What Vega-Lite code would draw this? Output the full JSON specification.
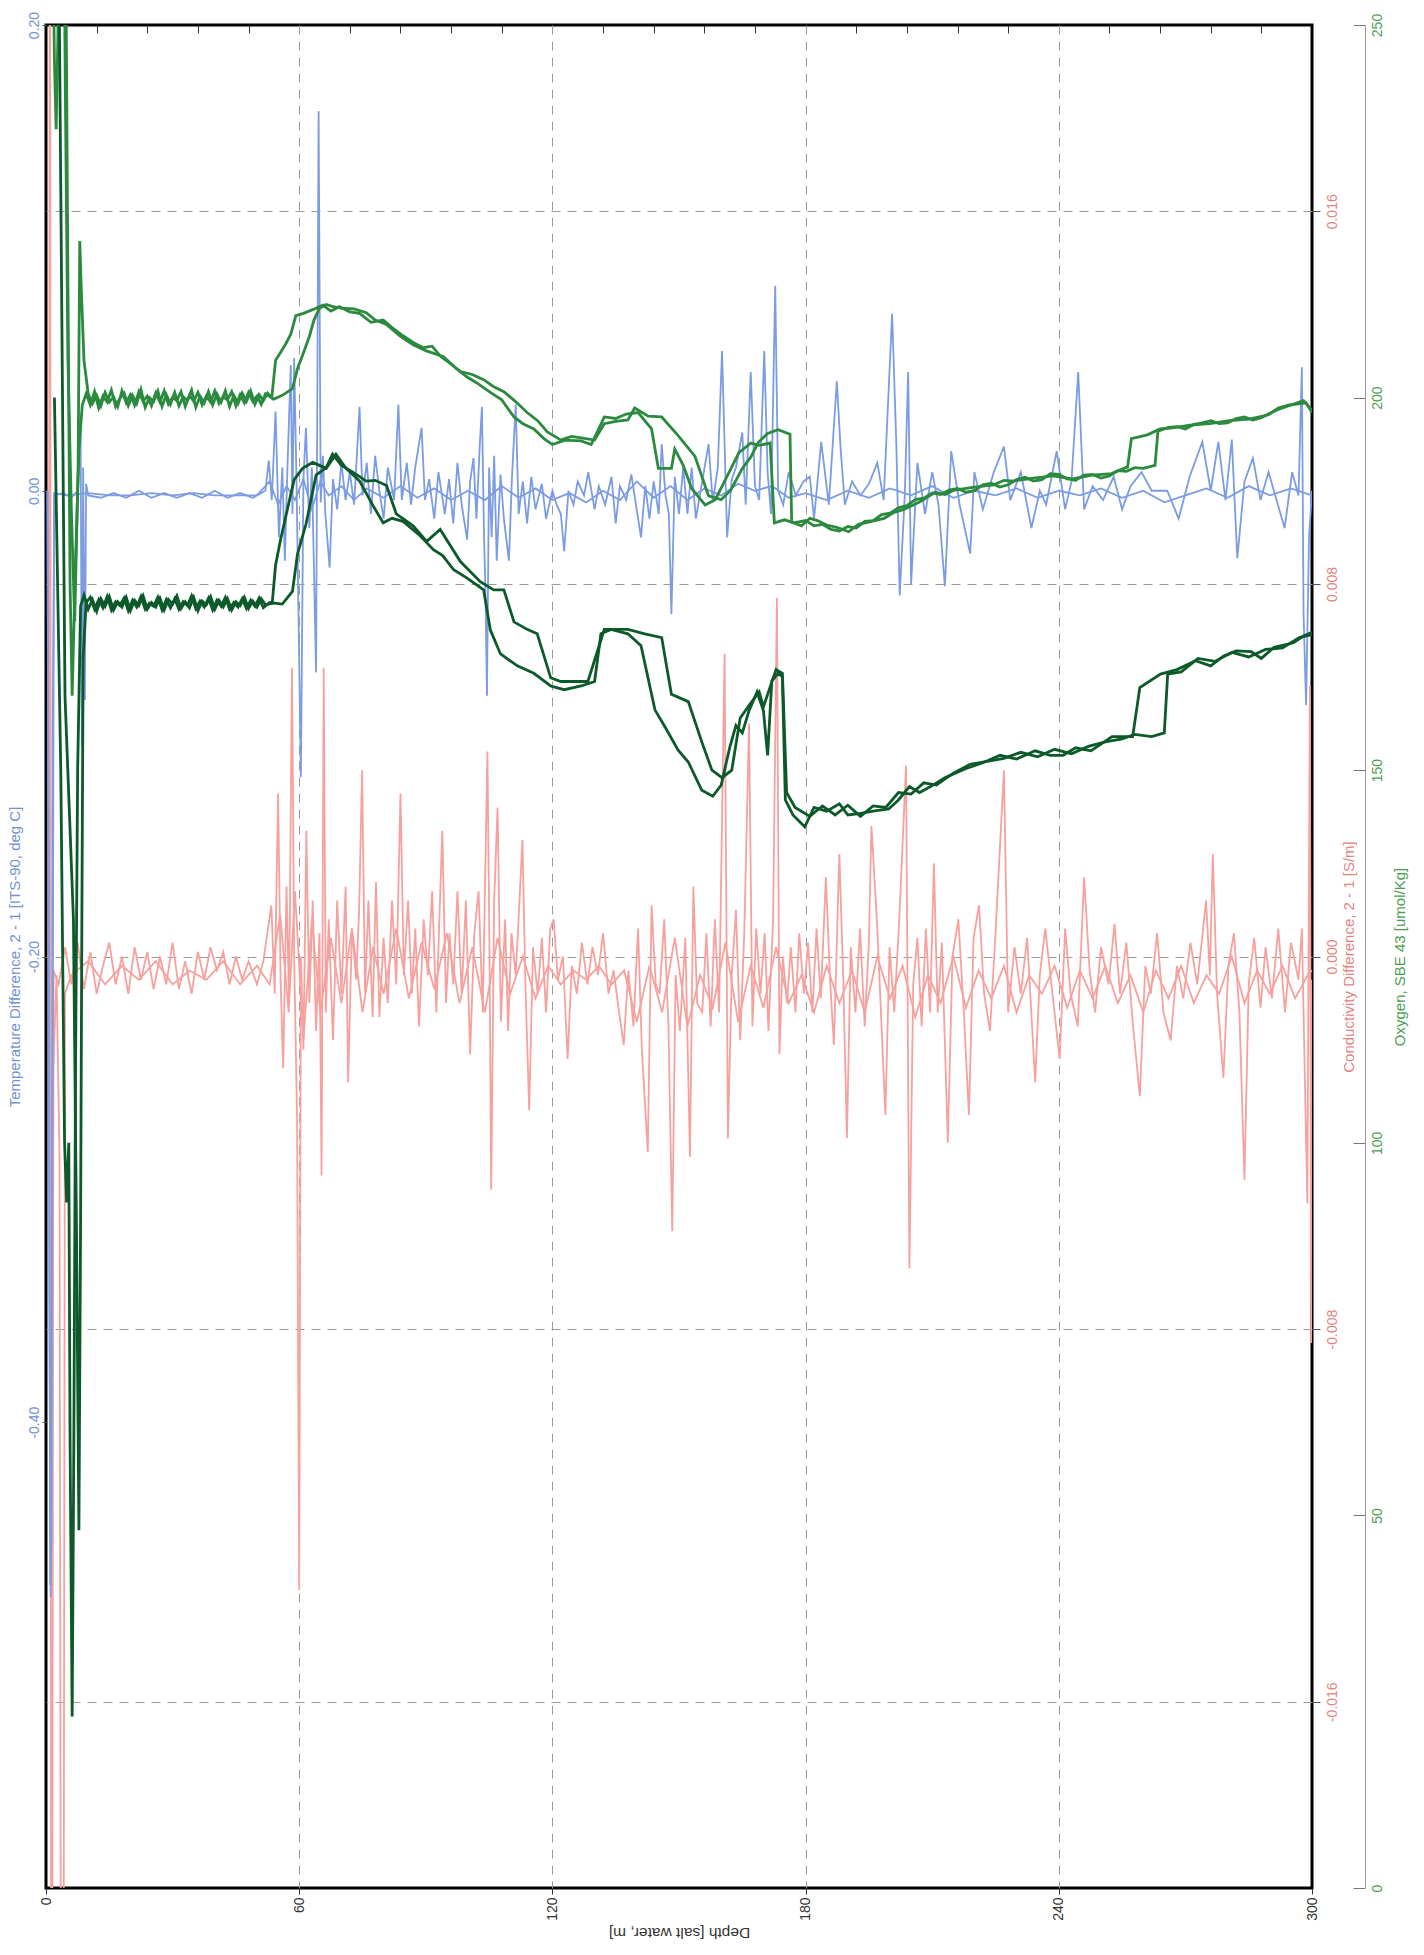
{
"$schema":"https://vega.github.io/schema/vega-lite/v6.json",
"width":1266,"height":1863,
"autosize":{"type":"none"},
"padding":{"left":46,"top":25,"right":112,"bottom":67},
"background":"white",
"config":{"view":{"stroke":"#000","strokeWidth":3},"font":"Liberation Sans","axis":{"titleFontWeight":"normal","labelFlush":false,"labelOverlap":false,"labelBound":false}},
"data":{"values":[
{"s":"C","c":"a","d":0.6,"v":0.0},{"s":"C","c":"a","d":0.9,"v":0.021},{"s":"C","c":"a","d":1.1,"v":-0.004},{"s":"C","c":"a","d":2.5,"v":-0.0004},{"s":"C","c":"a","d":3.2,"v":-0.0043},{"s":"C","c":"a","d":3.5,"v":-0.021},{"s":"C","c":"a","d":4.2,"v":-0.021},{"s":"C","c":"a","d":4.5,"v":-0.0008},{"s":"C","c":"a","d":6,"v":-0.0004},{"s":"C","c":"a","d":10,"v":-0.0001},{"s":"C","c":"a","d":14,"v":-0.0006},{"s":"C","c":"a","d":18,"v":-0.0002},{"s":"C","c":"a","d":22,"v":-0.0005},{"s":"C","c":"a","d":26,"v":-0.0001},{"s":"C","c":"a","d":30,"v":-0.0006},{"s":"C","c":"a","d":34,"v":-0.0003},{"s":"C","c":"a","d":38,"v":-0.0005},{"s":"C","c":"a","d":42,"v":-0.0001},{"s":"C","c":"a","d":46,"v":-0.0006},{"s":"C","c":"a","d":50,"v":-0.0002},{"s":"C","c":"a","d":53,"v":-0.0006},{"s":"C","c":"a","d":55.5,"v":0.0009},{"s":"C","c":"a","d":57.5,"v":-0.0012},{"s":"C","c":"a","d":59,"v":0.0014},{"s":"C","c":"a","d":61,"v":-0.0018},{"s":"C","c":"a","d":63,"v":0.0008},{"s":"C","c":"a","d":65,"v":-0.0012},{"s":"C","c":"a","d":67.5,"v":0.0004},{"s":"C","c":"a","d":70,"v":-0.001},{"s":"C","c":"a","d":72.5,"v":0.0006},{"s":"C","c":"a","d":75,"v":-0.0012},{"s":"C","c":"a","d":77.5,"v":0.0002},{"s":"C","c":"a","d":80,"v":-0.0008},{"s":"C","c":"a","d":83,"v":0.0006},{"s":"C","c":"a","d":86,"v":-0.0009},{"s":"C","c":"a","d":89,"v":0.0003},{"s":"C","c":"a","d":92,"v":-0.0007},{"s":"C","c":"a","d":95,"v":0.0005},{"s":"C","c":"a","d":98,"v":-0.001},{"s":"C","c":"a","d":101,"v":0.0002},{"s":"C","c":"a","d":104,"v":-0.0012},{"s":"C","c":"a","d":107,"v":0.0004},{"s":"C","c":"a","d":110,"v":-0.0008},{"s":"C","c":"a","d":113,"v":0.0},{"s":"C","c":"a","d":116,"v":-0.0009},{"s":"C","c":"a","d":119,"v":-0.0002},{"s":"C","c":"a","d":122,"v":-0.0006},{"s":"C","c":"a","d":125,"v":-0.0003},{"s":"C","c":"a","d":128,"v":-0.0005},{"s":"C","c":"a","d":131,"v":-0.0002},{"s":"C","c":"a","d":134,"v":-0.0006},{"s":"C","c":"a","d":137,"v":-0.0003},{"s":"C","c":"a","d":140,"v":-0.0014},{"s":"C","c":"a","d":143,"v":-0.0002},{"s":"C","c":"a","d":146,"v":-0.0012},{"s":"C","c":"a","d":149,"v":0.0004},{"s":"C","c":"a","d":152,"v":-0.0015},{"s":"C","c":"a","d":155,"v":-0.0004},{"s":"C","c":"a","d":158,"v":-0.0011},{"s":"C","c":"a","d":161,"v":0.0003},{"s":"C","c":"a","d":164,"v":-0.0014},{"s":"C","c":"a","d":167,"v":-0.0002},{"s":"C","c":"a","d":170,"v":-0.0011},{"s":"C","c":"a","d":173,"v":0.0002},{"s":"C","c":"a","d":176,"v":-0.001},{"s":"C","c":"a","d":179,"v":-0.0004},{"s":"C","c":"a","d":182,"v":-0.0012},{"s":"C","c":"a","d":185,"v":-0.0002},{"s":"C","c":"a","d":188,"v":-0.001},{"s":"C","c":"a","d":191,"v":-0.0003},{"s":"C","c":"a","d":194,"v":-0.0012},{"s":"C","c":"a","d":197,"v":0.0},{"s":"C","c":"a","d":200,"v":-0.0009},{"s":"C","c":"a","d":203,"v":-0.0002},{"s":"C","c":"a","d":206,"v":-0.0013},{"s":"C","c":"a","d":209,"v":-0.0004},{"s":"C","c":"a","d":212,"v":-0.001},{"s":"C","c":"a","d":215,"v":0.0},{"s":"C","c":"a","d":218,"v":-0.0011},{"s":"C","c":"a","d":221,"v":-0.0003},{"s":"C","c":"a","d":224,"v":-0.0009},{"s":"C","c":"a","d":227,"v":-0.0002},{"s":"C","c":"a","d":230,"v":-0.0012},{"s":"C","c":"a","d":233,"v":-0.0004},{"s":"C","c":"a","d":236,"v":-0.0008},{"s":"C","c":"a","d":239,"v":-0.0002},{"s":"C","c":"a","d":242,"v":-0.0011},{"s":"C","c":"a","d":245,"v":-0.0003},{"s":"C","c":"a","d":248,"v":-0.0009},{"s":"C","c":"a","d":251,"v":-0.0002},{"s":"C","c":"a","d":254,"v":-0.001},{"s":"C","c":"a","d":257,"v":-0.0004},{"s":"C","c":"a","d":260,"v":-0.0012},{"s":"C","c":"a","d":263,"v":-0.0003},{"s":"C","c":"a","d":266,"v":-0.0009},{"s":"C","c":"a","d":269,"v":-0.0002},{"s":"C","c":"a","d":272,"v":-0.001},{"s":"C","c":"a","d":275,"v":-0.0004},{"s":"C","c":"a","d":278,"v":-0.0008},{"s":"C","c":"a","d":281,"v":0.0},{"s":"C","c":"a","d":284,"v":-0.001},{"s":"C","c":"a","d":287,"v":-0.0003},{"s":"C","c":"a","d":290,"v":-0.0008},{"s":"C","c":"a","d":293,"v":-0.0002},{"s":"C","c":"a","d":296,"v":-0.0009},{"s":"C","c":"a","d":299,"v":-0.0004},{"s":"C","c":"a","d":300,"v":-0.0003},
{"s":"C","c":"b","d":0.8,"v":0.0},{"s":"C","c":"b","d":1.0,"v":0.021},{"s":"C","c":"b","d":1.2,"v":-0.021},{"s":"C","c":"b","d":1.5,"v":-0.021},{"s":"C","c":"b","d":1.8,"v":-0.0003},{"s":"C","c":"b","d":3,"v":-0.0006},{"s":"C","c":"b","d":4.5,"v":0.0002},{"s":"C","c":"b","d":6,"v":-0.0006},{"s":"C","c":"b","d":7.5,"v":0.0003},{"s":"C","c":"b","d":9,"v":-0.0007},{"s":"C","c":"b","d":10.5,"v":0.0001},{"s":"C","c":"b","d":12,"v":-0.0008},{"s":"C","c":"b","d":13.5,"v":-0.0002},{"s":"C","c":"b","d":15,"v":0.0003},{"s":"C","c":"b","d":16.5,"v":-0.0006},{"s":"C","c":"b","d":18,"v":0.0},{"s":"C","c":"b","d":19.5,"v":-0.0008},{"s":"C","c":"b","d":21,"v":0.0002},{"s":"C","c":"b","d":22.5,"v":-0.0005},{"s":"C","c":"b","d":24,"v":0.0001},{"s":"C","c":"b","d":25.5,"v":-0.0007},{"s":"C","c":"b","d":27,"v":0.0},{"s":"C","c":"b","d":28.5,"v":-0.0006},{"s":"C","c":"b","d":30,"v":0.0003},{"s":"C","c":"b","d":31.5,"v":-0.0007},{"s":"C","c":"b","d":33,"v":-0.0001},{"s":"C","c":"b","d":34.5,"v":-0.0008},{"s":"C","c":"b","d":36,"v":0.0001},{"s":"C","c":"b","d":37.5,"v":-0.0005},{"s":"C","c":"b","d":39,"v":0.0002},{"s":"C","c":"b","d":40.5,"v":-0.0003},{"s":"C","c":"b","d":42,"v":0.0001},{"s":"C","c":"b","d":43.5,"v":-0.0006},{"s":"C","c":"b","d":45,"v":0.0},{"s":"C","c":"b","d":46.5,"v":-0.0005},{"s":"C","c":"b","d":48,"v":-0.0001},{"s":"C","c":"b","d":50,"v":-0.0006},{"s":"C","c":"b","d":51.5,"v":-0.0001},
{"s":"C","c":"b","d":53.4,"v":0.0011},{"s":"C","c":"b","d":54.2,"v":-0.0008},{"s":"C","c":"b","d":55,"v":0.0035},{"s":"C","c":"b","d":55.6,"v":-0.0005},{"s":"C","c":"b","d":56.2,"v":-0.0024},{"s":"C","c":"b","d":57,"v":0.0015},{"s":"C","c":"b","d":57.6,"v":-0.001},{"s":"C","c":"b","d":58.3,"v":0.0062},{"s":"C","c":"b","d":58.8,"v":0.0},{"s":"C","c":"b","d":59.5,"v":-0.0035},{"s":"C","c":"b","d":60,"v":-0.0136},{"s":"C","c":"b","d":60.4,"v":0.0},{"s":"C","c":"b","d":61,"v":-0.002},{"s":"C","c":"b","d":61.7,"v":0.0027},{"s":"C","c":"b","d":62.4,"v":-0.001},{"s":"C","c":"b","d":63.2,"v":0.0012},{"s":"C","c":"b","d":64,"v":-0.0016},{"s":"C","c":"b","d":64.8,"v":0.0005},{"s":"C","c":"b","d":65.3,"v":-0.0047},{"s":"C","c":"b","d":65.8,"v":0.0062},{"s":"C","c":"b","d":66.3,"v":-0.0012},{"s":"C","c":"b","d":67,"v":0.0008},{"s":"C","c":"b","d":68,"v":-0.0018},{"s":"C","c":"b","d":69,"v":0.0012},{"s":"C","c":"b","d":70,"v":-0.0008},{"s":"C","c":"b","d":71,"v":0.0015},{"s":"C","c":"b","d":71.6,"v":-0.0027},{"s":"C","c":"b","d":72.5,"v":0.0006},{"s":"C","c":"b","d":73.5,"v":-0.0005},{"s":"C","c":"b","d":74.2,"v":0.001},{"s":"C","c":"b","d":74.9,"v":0.004},{"s":"C","c":"b","d":75.6,"v":-0.0008},{"s":"C","c":"b","d":76.4,"v":0.0012},{"s":"C","c":"b","d":77.4,"v":-0.0013},{"s":"C","c":"b","d":78.2,"v":0.0016},{"s":"C","c":"b","d":79,"v":-0.0013},{"s":"C","c":"b","d":80,"v":0.0004},{"s":"C","c":"b","d":81,"v":-0.001},{"s":"C","c":"b","d":82,"v":0.0012},{"s":"C","c":"b","d":83,"v":-0.0006},{"s":"C","c":"b","d":84,"v":0.0035},{"s":"C","c":"b","d":84.8,"v":-0.0004},{"s":"C","c":"b","d":85.8,"v":0.0012},{"s":"C","c":"b","d":86.7,"v":-0.0008},{"s":"C","c":"b","d":87.5,"v":0.0006},{"s":"C","c":"b","d":88.4,"v":-0.0015},{"s":"C","c":"b","d":89.5,"v":0.0008},{"s":"C","c":"b","d":90.5,"v":-0.0004},{"s":"C","c":"b","d":91.5,"v":0.0014},{"s":"C","c":"b","d":92.5,"v":-0.0012},{"s":"C","c":"b","d":93.9,"v":0.0027},{"s":"C","c":"b","d":94.8,"v":-0.001},{"s":"C","c":"b","d":95.6,"v":0.0005},{"s":"C","c":"b","d":96.5,"v":-0.0006},{"s":"C","c":"b","d":97.5,"v":0.0014},{"s":"C","c":"b","d":98.5,"v":-0.0008},{"s":"C","c":"b","d":99.5,"v":0.0012},{"s":"C","c":"b","d":100.5,"v":-0.0021},{"s":"C","c":"b","d":101.5,"v":0.0005},{"s":"C","c":"b","d":102.5,"v":0.0014},{"s":"C","c":"b","d":103.5,"v":-0.0012},{"s":"C","c":"b","d":104.6,"v":0.0044},{"s":"C","c":"b","d":105.1,"v":0.0},{"s":"C","c":"b","d":105.5,"v":-0.005},{"s":"C","c":"b","d":106.2,"v":0.0012},{"s":"C","c":"b","d":107,"v":0.0032},{"s":"C","c":"b","d":107.8,"v":-0.0014},{"s":"C","c":"b","d":108.8,"v":0.0008},{"s":"C","c":"b","d":109.5,"v":-0.0016},{"s":"C","c":"b","d":110.3,"v":0.0005},{"s":"C","c":"b","d":111.3,"v":-0.0004},{"s":"C","c":"b","d":112.2,"v":0.0012},{"s":"C","c":"b","d":112.9,"v":0.0025},{"s":"C","c":"b","d":113.6,"v":-0.0006},{"s":"C","c":"b","d":114.5,"v":-0.0033},{"s":"C","c":"b","d":115.4,"v":0.0002},{"s":"C","c":"b","d":116.5,"v":-0.0008},{"s":"C","c":"b","d":117.5,"v":0.0004},{"s":"C","c":"b","d":118.5,"v":-0.0012},{"s":"C","c":"b","d":119.5,"v":0.0006},{"s":"C","c":"b","d":120.3,"v":0.0008},{"s":"C","c":"b","d":121.3,"v":-0.0005},{"s":"C","c":"b","d":122.5,"v":0.0},{"s":"C","c":"b","d":123.6,"v":-0.0022},{"s":"C","c":"b","d":124.6,"v":-0.0002},{"s":"C","c":"b","d":125.8,"v":-0.0008},{"s":"C","c":"b","d":127,"v":0.0003},{"s":"C","c":"b","d":128.3,"v":-0.0006},{"s":"C","c":"b","d":129.5,"v":0.0002},{"s":"C","c":"b","d":130.8,"v":-0.0004},{"s":"C","c":"b","d":132,"v":0.0005},{"s":"C","c":"b","d":133.3,"v":-0.0008},{"s":"C","c":"b","d":134.5,"v":-0.0003},{"s":"C","c":"b","d":135.8,"v":-0.0012},{"s":"C","c":"b","d":136.9,"v":-0.0019},{"s":"C","c":"b","d":138,"v":-0.0003},{"s":"C","c":"b","d":139.2,"v":-0.0015},{"s":"C","c":"b","d":140.3,"v":0.0006},{"s":"C","c":"b","d":141.2,"v":-0.002},{"s":"C","c":"b","d":142.6,"v":-0.0042},{"s":"C","c":"b","d":143.5,"v":0.0011},{"s":"C","c":"b","d":144.5,"v":-0.0006},{"s":"C","c":"b","d":145.4,"v":-0.0008},{"s":"C","c":"b","d":146.5,"v":0.0008},{"s":"C","c":"b","d":147.5,"v":-0.0015},{"s":"C","c":"b","d":148.4,"v":-0.0059},{"s":"C","c":"b","d":149.2,"v":-0.0004},{"s":"C","c":"b","d":150.2,"v":-0.0016},{"s":"C","c":"b","d":151.5,"v":0.0004},{"s":"C","c":"b","d":152.6,"v":-0.0043},{"s":"C","c":"b","d":153.4,"v":0.0015},{"s":"C","c":"b","d":154.3,"v":-0.001},{"s":"C","c":"b","d":155.5,"v":-0.0012},{"s":"C","c":"b","d":156.5,"v":0.0005},{"s":"C","c":"b","d":157.5,"v":-0.0015},{"s":"C","c":"b","d":158.5,"v":0.0008},{"s":"C","c":"b","d":159.5,"v":-0.0012},{"s":"C","c":"b","d":160.8,"v":0.0065},{"s":"C","c":"b","d":161.6,"v":-0.0039},{"s":"C","c":"b","d":162.5,"v":-0.0004},{"s":"C","c":"b","d":163.5,"v":0.001},{"s":"C","c":"b","d":164.5,"v":-0.0018},{"s":"C","c":"b","d":165.5,"v":0.0006},{"s":"C","c":"b","d":166.6,"v":0.005},{"s":"C","c":"b","d":167.4,"v":-0.0015},{"s":"C","c":"b","d":168.3,"v":0.0006},{"s":"C","c":"b","d":169.3,"v":-0.0008},{"s":"C","c":"b","d":170.3,"v":0.0005},{"s":"C","c":"b","d":171.2,"v":-0.0016},{"s":"C","c":"b","d":172.3,"v":0.0008},{"s":"C","c":"b","d":173.2,"v":0.0077},{"s":"C","c":"b","d":173.8,"v":-0.0021},{"s":"C","c":"b","d":174.6,"v":0.0},{"s":"C","c":"b","d":175.6,"v":-0.001},{"s":"C","c":"b","d":176.5,"v":0.0002},{"s":"C","c":"b","d":177.6,"v":-0.0012},{"s":"C","c":"b","d":178.5,"v":0.0005},{"s":"C","c":"b","d":179.6,"v":-0.0008},{"s":"C","c":"b","d":180.6,"v":0.0003},{"s":"C","c":"b","d":181.6,"v":-0.0012},{"s":"C","c":"b","d":182.6,"v":0.0006},{"s":"C","c":"b","d":183.6,"v":-0.0009},{"s":"C","c":"b","d":184.8,"v":0.0017},{"s":"C","c":"b","d":185.8,"v":-0.0005},{"s":"C","c":"b","d":186.7,"v":-0.0019},{"s":"C","c":"b","d":188,"v":0.0022},{"s":"C","c":"b","d":188.9,"v":-0.0004},{"s":"C","c":"b","d":189.8,"v":-0.0039},{"s":"C","c":"b","d":190.7,"v":0.0002},{"s":"C","c":"b","d":191.8,"v":-0.0012},{"s":"C","c":"b","d":192.9,"v":0.0006},{"s":"C","c":"b","d":194,"v":-0.0015},{"s":"C","c":"b","d":195,"v":0.0003},{"s":"C","c":"b","d":195.6,"v":0.0028},{"s":"C","c":"b","d":197,"v":0.0006},{"s":"C","c":"b","d":198.9,"v":-0.0034},{"s":"C","c":"b","d":199.9,"v":0.0002},{"s":"C","c":"b","d":201,"v":-0.0012},{"s":"C","c":"b","d":202.2,"v":0.0008},{"s":"C","c":"b","d":203.8,"v":0.0041},{"s":"C","c":"b","d":204.6,"v":-0.0067},{"s":"C","c":"b","d":205.5,"v":-0.0006},{"s":"C","c":"b","d":206.5,"v":0.0004},{"s":"C","c":"b","d":207.5,"v":-0.0015},{"s":"C","c":"b","d":208.5,"v":0.0006},{"s":"C","c":"b","d":209.5,"v":-0.0012},{"s":"C","c":"b","d":210.4,"v":0.002},{"s":"C","c":"b","d":211.3,"v":-0.0012},{"s":"C","c":"b","d":212.3,"v":0.0003},{"s":"C","c":"b","d":213.7,"v":-0.004},{"s":"C","c":"b","d":214.8,"v":0.0},{"s":"C","c":"b","d":216.2,"v":0.0008},{"s":"C","c":"b","d":217.5,"v":-0.0012},{"s":"C","c":"b","d":218.7,"v":-0.0034},{"s":"C","c":"b","d":219.8,"v":0.0004},{"s":"C","c":"b","d":221.1,"v":0.0011},{"s":"C","c":"b","d":222.3,"v":-0.0008},{"s":"C","c":"b","d":223.7,"v":-0.0016},{"s":"C","c":"b","d":225,"v":0.0005},{"s":"C","c":"b","d":227,"v":0.004},{"s":"C","c":"b","d":228,"v":-0.0012},{"s":"C","c":"b","d":229.5,"v":0.0002},{"s":"C","c":"b","d":231,"v":-0.0008},{"s":"C","c":"b","d":232.5,"v":0.0004},{"s":"C","c":"b","d":234.4,"v":-0.0027},{"s":"C","c":"b","d":235.5,"v":-0.0004},{"s":"C","c":"b","d":236.8,"v":0.0006},{"s":"C","c":"b","d":238.5,"v":-0.0008},{"s":"C","c":"b","d":240.2,"v":-0.0022},{"s":"C","c":"b","d":241.5,"v":0.0006},{"s":"C","c":"b","d":242.8,"v":-0.0008},{"s":"C","c":"b","d":244.5,"v":-0.0015},{"s":"C","c":"b","d":246,"v":0.0017},{"s":"C","c":"b","d":247.3,"v":-0.0003},{"s":"C","c":"b","d":248.6,"v":-0.0012},{"s":"C","c":"b","d":250,"v":0.0002},{"s":"C","c":"b","d":251.8,"v":-0.0006},{"s":"C","c":"b","d":253.2,"v":0.0007},{"s":"C","c":"b","d":254.5,"v":-0.0008},{"s":"C","c":"b","d":256,"v":0.0003},{"s":"C","c":"b","d":257.5,"v":-0.0014},{"s":"C","c":"b","d":259.2,"v":-0.003},{"s":"C","c":"b","d":260.5,"v":-0.0002},{"s":"C","c":"b","d":261.8,"v":-0.0008},{"s":"C","c":"b","d":263.3,"v":0.0005},{"s":"C","c":"b","d":264.8,"v":-0.0012},{"s":"C","c":"b","d":266.5,"v":-0.0018},{"s":"C","c":"b","d":268,"v":-0.0002},{"s":"C","c":"b","d":269.5,"v":-0.0009},{"s":"C","c":"b","d":271.2,"v":0.0003},{"s":"C","c":"b","d":272.8,"v":-0.0006},{"s":"C","c":"b","d":274.9,"v":0.0012},{"s":"C","c":"b","d":275.8,"v":-0.0004},{"s":"C","c":"b","d":276.5,"v":0.0022},{"s":"C","c":"b","d":277.5,"v":-0.0008},{"s":"C","c":"b","d":279,"v":-0.0026},{"s":"C","c":"b","d":280.2,"v":-0.0002},{"s":"C","c":"b","d":281.5,"v":0.0005},{"s":"C","c":"b","d":282.8,"v":-0.0012},{"s":"C","c":"b","d":284,"v":-0.0048},{"s":"C","c":"b","d":285,"v":-0.0006},{"s":"C","c":"b","d":286.3,"v":0.0004},{"s":"C","c":"b","d":287.8,"v":-0.0011},{"s":"C","c":"b","d":289,"v":0.0002},{"s":"C","c":"b","d":290.5,"v":-0.0009},{"s":"C","c":"b","d":292,"v":0.0006},{"s":"C","c":"b","d":293.6,"v":-0.0012},{"s":"C","c":"b","d":295,"v":0.0003},{"s":"C","c":"b","d":296.8,"v":-0.0005},{"s":"C","c":"b","d":297.6,"v":0.0006},{"s":"C","c":"b","d":298.9,"v":-0.0053},{"s":"C","c":"b","d":299.5,"v":0.0058},{"s":"C","c":"b","d":299.8,"v":-0.0083},{"s":"C","c":"b","d":300,"v":-0.0005},
{"s":"T","c":"a","d":0.4,"v":0.0},{"s":"T","c":"a","d":0.8,"v":-0.35},{"s":"T","c":"a","d":1.1,"v":-0.475},{"s":"T","c":"a","d":1.5,"v":-0.3},{"s":"T","c":"a","d":1.9,"v":-0.001},{"s":"T","c":"a","d":5,"v":-0.002},{"s":"T","c":"a","d":10,"v":-0.001},{"s":"T","c":"a","d":15,"v":-0.002},{"s":"T","c":"a","d":20,"v":-0.002},{"s":"T","c":"a","d":25,"v":-0.001},{"s":"T","c":"a","d":30,"v":-0.002},{"s":"T","c":"a","d":35,"v":-0.001},{"s":"T","c":"a","d":40,"v":-0.002},{"s":"T","c":"a","d":45,"v":-0.002},{"s":"T","c":"a","d":50,"v":-0.002},{"s":"T","c":"a","d":53,"v":0.004},{"s":"T","c":"a","d":55,"v":-0.006},{"s":"T","c":"a","d":57,"v":0.002},{"s":"T","c":"a","d":59,"v":-0.004},{"s":"T","c":"a","d":61,"v":0.005},{"s":"T","c":"a","d":63,"v":-0.008},{"s":"T","c":"a","d":65,"v":0.004},{"s":"T","c":"a","d":67,"v":-0.002},{"s":"T","c":"a","d":70,"v":0.002},{"s":"T","c":"a","d":73,"v":-0.004},{"s":"T","c":"a","d":76,"v":0.001},{"s":"T","c":"a","d":80,"v":-0.003},{"s":"T","c":"a","d":84,"v":0.002},{"s":"T","c":"a","d":88,"v":-0.003},{"s":"T","c":"a","d":92,"v":0.001},{"s":"T","c":"a","d":96,"v":-0.004},{"s":"T","c":"a","d":100,"v":0.0},{"s":"T","c":"a","d":104,"v":-0.004},{"s":"T","c":"a","d":108,"v":0.002},{"s":"T","c":"a","d":112,"v":-0.003},{"s":"T","c":"a","d":116,"v":0.001},{"s":"T","c":"a","d":120,"v":-0.004},{"s":"T","c":"a","d":124,"v":-0.001},{"s":"T","c":"a","d":128,"v":-0.005},{"s":"T","c":"a","d":132,"v":0.0},{"s":"T","c":"a","d":136,"v":-0.004},{"s":"T","c":"a","d":140,"v":0.004},{"s":"T","c":"a","d":144,"v":-0.003},{"s":"T","c":"a","d":148,"v":0.002},{"s":"T","c":"a","d":152,"v":-0.004},{"s":"T","c":"a","d":156,"v":0.001},{"s":"T","c":"a","d":160,"v":-0.002},{"s":"T","c":"a","d":164,"v":0.003},{"s":"T","c":"a","d":168,"v":0.0},{"s":"T","c":"a","d":172,"v":0.002},{"s":"T","c":"a","d":176,"v":-0.003},{"s":"T","c":"a","d":180,"v":-0.001},{"s":"T","c":"a","d":185,"v":-0.004},{"s":"T","c":"a","d":190,"v":0.0},{"s":"T","c":"a","d":195,"v":-0.003},{"s":"T","c":"a","d":200,"v":0.001},{"s":"T","c":"a","d":205,"v":-0.002},{"s":"T","c":"a","d":210,"v":0.002},{"s":"T","c":"a","d":215,"v":-0.003},{"s":"T","c":"a","d":220,"v":0.0},{"s":"T","c":"a","d":225,"v":-0.002},{"s":"T","c":"a","d":230,"v":0.001},{"s":"T","c":"a","d":235,"v":-0.003},{"s":"T","c":"a","d":240,"v":0.0},{"s":"T","c":"a","d":245,"v":-0.002},{"s":"T","c":"a","d":250,"v":0.001},{"s":"T","c":"a","d":255,"v":-0.003},{"s":"T","c":"a","d":260,"v":0.0},{"s":"T","c":"a","d":265,"v":-0.005},{"s":"T","c":"a","d":270,"v":-0.002},{"s":"T","c":"a","d":275,"v":0.001},{"s":"T","c":"a","d":280,"v":-0.003},{"s":"T","c":"a","d":285,"v":0.002},{"s":"T","c":"a","d":290,"v":-0.002},{"s":"T","c":"a","d":295,"v":0.001},{"s":"T","c":"a","d":300,"v":-0.002},
{"s":"T","c":"b","d":0.3,"v":0.0},{"s":"T","c":"b","d":0.7,"v":-0.2},{"s":"T","c":"b","d":1.0,"v":-0.47},{"s":"T","c":"b","d":1.3,"v":-0.45},{"s":"T","c":"b","d":1.6,"v":-0.1},{"s":"T","c":"b","d":2.0,"v":-0.002},{"s":"T","c":"b","d":4,"v":-0.001},{"s":"T","c":"b","d":6,"v":-0.003},{"s":"T","c":"b","d":7.5,"v":0.0},{"s":"T","c":"b","d":8.2,"v":0.03},{"s":"T","c":"b","d":8.5,"v":-0.11},{"s":"T","c":"b","d":8.8,"v":0.01},{"s":"T","c":"b","d":9.2,"v":-0.09},{"s":"T","c":"b","d":9.5,"v":0.003},{"s":"T","c":"b","d":10,"v":-0.002},{"s":"T","c":"b","d":13,"v":-0.003},{"s":"T","c":"b","d":16,"v":-0.001},{"s":"T","c":"b","d":19,"v":-0.003},{"s":"T","c":"b","d":22,"v":0.0},{"s":"T","c":"b","d":25,"v":-0.003},{"s":"T","c":"b","d":28,"v":-0.001},{"s":"T","c":"b","d":31,"v":-0.003},{"s":"T","c":"b","d":34,"v":-0.001},{"s":"T","c":"b","d":37,"v":-0.003},{"s":"T","c":"b","d":40,"v":0.0},{"s":"T","c":"b","d":43,"v":-0.003},{"s":"T","c":"b","d":46,"v":-0.001},{"s":"T","c":"b","d":49,"v":-0.003},
{"s":"T","c":"b","d":52,"v":0.0},{"s":"T","c":"b","d":52.8,"v":0.013},{"s":"T","c":"b","d":53.5,"v":-0.004},{"s":"T","c":"b","d":54.4,"v":0.034},{"s":"T","c":"b","d":55.2,"v":-0.02},{"s":"T","c":"b","d":56,"v":0.01},{"s":"T","c":"b","d":56.6,"v":-0.03},{"s":"T","c":"b","d":57.2,"v":0.009},{"s":"T","c":"b","d":58,"v":0.054},{"s":"T","c":"b","d":58.4,"v":-0.01},{"s":"T","c":"b","d":58.8,"v":0.057},{"s":"T","c":"b","d":59.4,"v":0.0},{"s":"T","c":"b","d":60.4,"v":-0.123},{"s":"T","c":"b","d":61,"v":0.005},{"s":"T","c":"b","d":61.6,"v":0.027},{"s":"T","c":"b","d":62.4,"v":-0.016},{"s":"T","c":"b","d":63,"v":0.01},{"s":"T","c":"b","d":64,"v":-0.078},{"s":"T","c":"b","d":64.6,"v":0.163},{"s":"T","c":"b","d":65.1,"v":-0.005},{"s":"T","c":"b","d":65.6,"v":0.015},{"s":"T","c":"b","d":66.2,"v":-0.01},{"s":"T","c":"b","d":67.2,"v":-0.033},{"s":"T","c":"b","d":68,"v":0.005},{"s":"T","c":"b","d":69,"v":-0.008},{"s":"T","c":"b","d":70,"v":0.012},{"s":"T","c":"b","d":71,"v":-0.004},{"s":"T","c":"b","d":72,"v":0.008},{"s":"T","c":"b","d":73,"v":-0.006},{"s":"T","c":"b","d":74.3,"v":0.036},{"s":"T","c":"b","d":75,"v":-0.002},{"s":"T","c":"b","d":76,"v":0.012},{"s":"T","c":"b","d":77,"v":-0.01},{"s":"T","c":"b","d":78,"v":0.015},{"s":"T","c":"b","d":79,"v":0.0},{"s":"T","c":"b","d":80,"v":-0.012},{"s":"T","c":"b","d":81,"v":0.01},{"s":"T","c":"b","d":82.5,"v":-0.004},{"s":"T","c":"b","d":83.5,"v":0.037},{"s":"T","c":"b","d":84.3,"v":-0.004},{"s":"T","c":"b","d":85.5,"v":0.012},{"s":"T","c":"b","d":86.5,"v":-0.006},{"s":"T","c":"b","d":87.5,"v":0.01},{"s":"T","c":"b","d":89,"v":0.027},{"s":"T","c":"b","d":89.8,"v":-0.004},{"s":"T","c":"b","d":90.8,"v":0.005},{"s":"T","c":"b","d":92,"v":-0.012},{"s":"T","c":"b","d":93,"v":0.008},{"s":"T","c":"b","d":94.5,"v":-0.01},{"s":"T","c":"b","d":95.5,"v":0.005},{"s":"T","c":"b","d":96.5,"v":-0.014},{"s":"T","c":"b","d":97.5,"v":0.012},{"s":"T","c":"b","d":98.5,"v":-0.006},{"s":"T","c":"b","d":99.8,"v":-0.021},{"s":"T","c":"b","d":100.5,"v":0.004},{"s":"T","c":"b","d":101.3,"v":0.014},{"s":"T","c":"b","d":102,"v":-0.012},{"s":"T","c":"b","d":102.8,"v":0.02},{"s":"T","c":"b","d":103.3,"v":0.036},{"s":"T","c":"b","d":103.8,"v":-0.02},{"s":"T","c":"b","d":104.1,"v":-0.04},{"s":"T","c":"b","d":104.5,"v":-0.088},{"s":"T","c":"b","d":105,"v":0.01},{"s":"T","c":"b","d":105.6,"v":-0.02},{"s":"T","c":"b","d":106.2,"v":0.015},{"s":"T","c":"b","d":106.8,"v":-0.03},{"s":"T","c":"b","d":107.7,"v":0.007},{"s":"T","c":"b","d":108.5,"v":-0.012},{"s":"T","c":"b","d":109.7,"v":-0.03},{"s":"T","c":"b","d":110.4,"v":0.005},{"s":"T","c":"b","d":111.3,"v":0.037},{"s":"T","c":"b","d":112,"v":-0.01},{"s":"T","c":"b","d":113,"v":0.004},{"s":"T","c":"b","d":114,"v":-0.014},{"s":"T","c":"b","d":115,"v":0.006},{"s":"T","c":"b","d":116,"v":-0.008},{"s":"T","c":"b","d":117.5,"v":0.003},{"s":"T","c":"b","d":118.5,"v":-0.012},{"s":"T","c":"b","d":120,"v":0.0},{"s":"T","c":"b","d":121,"v":-0.006},{"s":"T","c":"b","d":122,"v":-0.01},{"s":"T","c":"b","d":122.8,"v":-0.026},{"s":"T","c":"b","d":123.8,"v":0.0},{"s":"T","c":"b","d":125,"v":-0.006},{"s":"T","c":"b","d":126,"v":0.004},{"s":"T","c":"b","d":127.5,"v":-0.002},{"s":"T","c":"b","d":128.5,"v":0.008},{"s":"T","c":"b","d":130,"v":-0.008},{"s":"T","c":"b","d":131,"v":0.002},{"s":"T","c":"b","d":132.5,"v":-0.006},{"s":"T","c":"b","d":134,"v":0.006},{"s":"T","c":"b","d":135,"v":-0.014},{"s":"T","c":"b","d":136,"v":0.002},{"s":"T","c":"b","d":137.5,"v":-0.004},{"s":"T","c":"b","d":138.7,"v":0.007},{"s":"T","c":"b","d":139.8,"v":-0.006},{"s":"T","c":"b","d":141,"v":-0.02},{"s":"T","c":"b","d":142,"v":0.002},{"s":"T","c":"b","d":143,"v":-0.012},{"s":"T","c":"b","d":144,"v":0.004},{"s":"T","c":"b","d":145.2,"v":-0.01},{"s":"T","c":"b","d":145.9,"v":0.02},{"s":"T","c":"b","d":146.8,"v":-0.002},{"s":"T","c":"b","d":147.6,"v":-0.01},{"s":"T","c":"b","d":148.2,"v":-0.053},{"s":"T","c":"b","d":149,"v":0.006},{"s":"T","c":"b","d":150,"v":-0.01},{"s":"T","c":"b","d":151,"v":0.01},{"s":"T","c":"b","d":152,"v":-0.01},{"s":"T","c":"b","d":153,"v":0.01},{"s":"T","c":"b","d":154,"v":-0.012},{"s":"T","c":"b","d":155.5,"v":0.004},{"s":"T","c":"b","d":157,"v":0.02},{"s":"T","c":"b","d":158,"v":-0.005},{"s":"T","c":"b","d":159.2,"v":0.01},{"s":"T","c":"b","d":160.2,"v":0.06},{"s":"T","c":"b","d":161.4,"v":-0.02},{"s":"T","c":"b","d":162.5,"v":0.005},{"s":"T","c":"b","d":163.5,"v":0.01},{"s":"T","c":"b","d":165,"v":0.025},{"s":"T","c":"b","d":165.8,"v":-0.006},{"s":"T","c":"b","d":167,"v":0.051},{"s":"T","c":"b","d":168,"v":0.002},{"s":"T","c":"b","d":169,"v":-0.004},{"s":"T","c":"b","d":170.2,"v":0.06},{"s":"T","c":"b","d":171,"v":0.008},{"s":"T","c":"b","d":171.8,"v":-0.01},{"s":"T","c":"b","d":172.8,"v":0.088},{"s":"T","c":"b","d":173.5,"v":0.0},{"s":"T","c":"b","d":174.7,"v":-0.006},{"s":"T","c":"b","d":176,"v":0.008},{"s":"T","c":"b","d":177.7,"v":-0.002},{"s":"T","c":"b","d":179.5,"v":0.004},{"s":"T","c":"b","d":181,"v":0.006},{"s":"T","c":"b","d":182,"v":-0.012},{"s":"T","c":"b","d":183.7,"v":0.021},{"s":"T","c":"b","d":185.5,"v":-0.006},{"s":"T","c":"b","d":187.4,"v":0.047},{"s":"T","c":"b","d":188.3,"v":0.018},{"s":"T","c":"b","d":189.3,"v":-0.006},{"s":"T","c":"b","d":191,"v":0.004},{"s":"T","c":"b","d":193,"v":-0.002},{"s":"T","c":"b","d":195,"v":0.003},{"s":"T","c":"b","d":197,"v":0.012},{"s":"T","c":"b","d":198.5,"v":-0.004},{"s":"T","c":"b","d":200.5,"v":0.076},{"s":"T","c":"b","d":201.5,"v":0.02},{"s":"T","c":"b","d":202.3,"v":-0.045},{"s":"T","c":"b","d":203.5,"v":-0.002},{"s":"T","c":"b","d":204.3,"v":0.051},{"s":"T","c":"b","d":205,"v":-0.04},{"s":"T","c":"b","d":206.5,"v":0.012},{"s":"T","c":"b","d":208.3,"v":-0.01},{"s":"T","c":"b","d":210,"v":0.008},{"s":"T","c":"b","d":211.5,"v":-0.006},{"s":"T","c":"b","d":213,"v":-0.041},{"s":"T","c":"b","d":214.5,"v":0.017},{"s":"T","c":"b","d":216.5,"v":-0.006},{"s":"T","c":"b","d":219,"v":-0.027},{"s":"T","c":"b","d":220,"v":0.008},{"s":"T","c":"b","d":222,"v":-0.008},{"s":"T","c":"b","d":224.6,"v":0.008},{"s":"T","c":"b","d":227,"v":0.019},{"s":"T","c":"b","d":228.5,"v":-0.004},{"s":"T","c":"b","d":231,"v":0.008},{"s":"T","c":"b","d":233.5,"v":-0.016},{"s":"T","c":"b","d":235.5,"v":0.0},{"s":"T","c":"b","d":237,"v":-0.006},{"s":"T","c":"b","d":239.5,"v":0.017},{"s":"T","c":"b","d":241.5,"v":-0.008},{"s":"T","c":"b","d":243,"v":0.004},{"s":"T","c":"b","d":244.6,"v":0.051},{"s":"T","c":"b","d":246,"v":-0.008},{"s":"T","c":"b","d":248,"v":0.002},{"s":"T","c":"b","d":250.5,"v":-0.004},{"s":"T","c":"b","d":253,"v":0.006},{"s":"T","c":"b","d":255,"v":-0.008},{"s":"T","c":"b","d":257,"v":0.002},{"s":"T","c":"b","d":259.6,"v":0.008},{"s":"T","c":"b","d":262,"v":0.0},{"s":"T","c":"b","d":265.7,"v":0.0},{"s":"T","c":"b","d":268.4,"v":-0.012},{"s":"T","c":"b","d":271,"v":0.006},{"s":"T","c":"b","d":274,"v":0.021},{"s":"T","c":"b","d":276,"v":0.0},{"s":"T","c":"b","d":277.8,"v":0.021},{"s":"T","c":"b","d":279.5,"v":-0.004},{"s":"T","c":"b","d":281,"v":0.022},{"s":"T","c":"b","d":282.3,"v":-0.029},{"s":"T","c":"b","d":284,"v":0.004},{"s":"T","c":"b","d":286,"v":0.014},{"s":"T","c":"b","d":287.8,"v":-0.004},{"s":"T","c":"b","d":289.7,"v":0.008},{"s":"T","c":"b","d":291.6,"v":-0.004},{"s":"T","c":"b","d":293.5,"v":-0.016},{"s":"T","c":"b","d":295.3,"v":0.008},{"s":"T","c":"b","d":296.8,"v":-0.002},{"s":"T","c":"b","d":297.6,"v":0.053},{"s":"T","c":"b","d":298,"v":-0.053},{"s":"T","c":"b","d":298.6,"v":-0.092},{"s":"T","c":"b","d":299.3,"v":-0.02},{"s":"T","c":"b","d":300,"v":0.0},
{"s":"O1","c":"a","d":1.5,"v":268},{"s":"O1","c":"a","d":2.0,"v":245},{"s":"O1","c":"a","d":2.4,"v":236},{"s":"O1","c":"a","d":2.8,"v":248},{"s":"O1","c":"a","d":3.2,"v":268},{"s":"O1","c":"a","d":4.6,"v":268},{"s":"O1","c":"a","d":5.2,"v":215},{"s":"O1","c":"a","d":5.7,"v":175},{"s":"O1","c":"a","d":6.2,"v":160},{"s":"O1","c":"a","d":7.0,"v":178},{"s":"O1","c":"a","d":7.8,"v":193},{"s":"O1","c":"a","d":8.6,"v":199},
{"s":"O1","c":"a","d":9.5,"v":200.5},{"s":"O1","c":"a","d":10.5,"v":199},{"s":"O1","c":"a","d":11.5,"v":200.8},{"s":"O1","c":"a","d":12.5,"v":198.6},{"s":"O1","c":"a","d":13.5,"v":200.2},{"s":"O1","c":"a","d":14.5,"v":199.4},{"s":"O1","c":"a","d":15.5,"v":201},{"s":"O1","c":"a","d":16.5,"v":198.8},{"s":"O1","c":"a","d":17.5,"v":199.9},{"s":"O1","c":"a","d":18.5,"v":200.6},{"s":"O1","c":"a","d":19.5,"v":198.9},{"s":"O1","c":"a","d":20.5,"v":200.3},{"s":"O1","c":"a","d":21.5,"v":199.2},{"s":"O1","c":"a","d":22.5,"v":201.1},{"s":"O1","c":"a","d":23.5,"v":198.7},{"s":"O1","c":"a","d":24.5,"v":200},{"s":"O1","c":"a","d":25.5,"v":199.5},{"s":"O1","c":"a","d":26.5,"v":200.9},{"s":"O1","c":"a","d":27.5,"v":198.8},{"s":"O1","c":"a","d":28.5,"v":200.4},{"s":"O1","c":"a","d":29.5,"v":199.1},{"s":"O1","c":"a","d":30.5,"v":200.7},{"s":"O1","c":"a","d":31.5,"v":198.9},{"s":"O1","c":"a","d":32.5,"v":200.1},{"s":"O1","c":"a","d":33.5,"v":199.6},{"s":"O1","c":"a","d":34.5,"v":201},{"s":"O1","c":"a","d":35.5,"v":198.7},{"s":"O1","c":"a","d":36.5,"v":200.2},{"s":"O1","c":"a","d":37.5,"v":199.3},{"s":"O1","c":"a","d":38.5,"v":200.8},{"s":"O1","c":"a","d":39.5,"v":199},{"s":"O1","c":"a","d":40.5,"v":200.5},{"s":"O1","c":"a","d":41.5,"v":199.4},{"s":"O1","c":"a","d":42.5,"v":200.9},{"s":"O1","c":"a","d":43.5,"v":198.8},{"s":"O1","c":"a","d":44.5,"v":200.3},{"s":"O1","c":"a","d":45.5,"v":199.2},{"s":"O1","c":"a","d":46.5,"v":200.6},{"s":"O1","c":"a","d":47.5,"v":199.5},{"s":"O1","c":"a","d":48.5,"v":200.9},{"s":"O1","c":"a","d":49.5,"v":199.1},{"s":"O1","c":"a","d":50.5,"v":200.4},{"s":"O1","c":"a","d":51.5,"v":199.6},{"s":"O1","c":"a","d":52.5,"v":200.6},{"s":"O1","c":"a","d":53.5,"v":200},
{"s":"O1","c":"a","d":54.4,"v":205},{"s":"O1","c":"a","d":55.5,"v":206},{"s":"O1","c":"a","d":56.8,"v":207.2},{"s":"O1","c":"a","d":58,"v":208.5},{"s":"O1","c":"a","d":59.2,"v":211},{"s":"O1","c":"a","d":61,"v":211.3},{"s":"O1","c":"a","d":63.2,"v":211.8},{"s":"O1","c":"a","d":65.6,"v":212.4},{"s":"O1","c":"a","d":67.5,"v":211.6},{"s":"O1","c":"a","d":69.5,"v":212.2},{"s":"O1","c":"a","d":72,"v":211.5},{"s":"O1","c":"a","d":74.3,"v":211.3},{"s":"O1","c":"a","d":77,"v":210.1},{"s":"O1","c":"a","d":79.9,"v":210.4},{"s":"O1","c":"a","d":82,"v":209.4},{"s":"O1","c":"a","d":84.6,"v":208.3},{"s":"O1","c":"a","d":87,"v":207.4},{"s":"O1","c":"a","d":89.4,"v":206.7},{"s":"O1","c":"a","d":91.5,"v":206.9},{"s":"O1","c":"a","d":93.4,"v":205.6},{"s":"O1","c":"a","d":96,"v":204.5},{"s":"O1","c":"a","d":98.2,"v":203.5},{"s":"O1","c":"a","d":101,"v":203.1},{"s":"O1","c":"a","d":103.7,"v":202.4},{"s":"O1","c":"a","d":106,"v":201.5},{"s":"O1","c":"a","d":108.5,"v":200.8},{"s":"O1","c":"a","d":111,"v":199.6},{"s":"O1","c":"a","d":114,"v":198},{"s":"O1","c":"a","d":116.5,"v":196.9},{"s":"O1","c":"a","d":118.8,"v":195.4},{"s":"O1","c":"a","d":122,"v":194.3},{"s":"O1","c":"a","d":124.5,"v":194.8},{"s":"O1","c":"a","d":126.8,"v":194.6},{"s":"O1","c":"a","d":130,"v":194.3},{"s":"O1","c":"a","d":132.3,"v":196.5},{"s":"O1","c":"a","d":135,"v":196.8},{"s":"O1","c":"a","d":137.9,"v":197},{"s":"O1","c":"a","d":139.5,"v":198.6},{"s":"O1","c":"a","d":142.7,"v":197.5},{"s":"O1","c":"a","d":145.9,"v":197.4},{"s":"O1","c":"a","d":149.8,"v":194.9},{"s":"O1","c":"a","d":153.8,"v":192.1},{"s":"O1","c":"a","d":157,"v":186.8},{"s":"O1","c":"a","d":160,"v":186.3},{"s":"O1","c":"a","d":162.3,"v":187.6},{"s":"O1","c":"a","d":165,"v":190.5},{"s":"O1","c":"a","d":167,"v":192},{"s":"O1","c":"a","d":168.8,"v":194},{"s":"O1","c":"a","d":171,"v":195.2},{"s":"O1","c":"a","d":173.5,"v":195.7},{"s":"O1","c":"a","d":176.3,"v":195.1},{"s":"O1","c":"a","d":176.7,"v":183.3},{"s":"O1","c":"a","d":179,"v":182.8},{"s":"O1","c":"a","d":181,"v":183.8},{"s":"O1","c":"a","d":182.8,"v":183.5},{"s":"O1","c":"a","d":185,"v":182.9},{"s":"O1","c":"a","d":187.4,"v":182.6},{"s":"O1","c":"a","d":190.2,"v":182},{"s":"O1","c":"a","d":192.5,"v":183},{"s":"O1","c":"a","d":194.9,"v":183.3},{"s":"O1","c":"a","d":198.6,"v":183.8},{"s":"O1","c":"a","d":201,"v":184.6},{"s":"O1","c":"a","d":203.3,"v":185},{"s":"O1","c":"a","d":207,"v":186},{"s":"O1","c":"a","d":210.7,"v":187.3},{"s":"O1","c":"a","d":213,"v":187},{"s":"O1","c":"a","d":215.3,"v":187.6},{"s":"O1","c":"a","d":220,"v":188},{"s":"O1","c":"a","d":224.6,"v":188.3},{"s":"O1","c":"a","d":227,"v":188.9},{"s":"O1","c":"a","d":229.3,"v":188.8},{"s":"O1","c":"a","d":234,"v":189.2},{"s":"O1","c":"a","d":238.6,"v":189.5},{"s":"O1","c":"a","d":243.2,"v":189.1},{"s":"O1","c":"a","d":247.9,"v":189.6},{"s":"O1","c":"a","d":252.5,"v":189.8},{"s":"O1","c":"a","d":256.3,"v":190.7},{"s":"O1","c":"a","d":257.2,"v":194.5},{"s":"O1","c":"a","d":261,"v":195},{"s":"O1","c":"a","d":264,"v":195.8},{"s":"O1","c":"a","d":266.5,"v":195.9},{"s":"O1","c":"a","d":271.1,"v":196.3},{"s":"O1","c":"a","d":275.8,"v":196.5},{"s":"O1","c":"a","d":280.4,"v":196.9},{"s":"O1","c":"a","d":285.1,"v":197.1},{"s":"O1","c":"a","d":289.7,"v":197.7},{"s":"O1","c":"a","d":292,"v":198.6},{"s":"O1","c":"a","d":294.4,"v":199},{"s":"O1","c":"a","d":298.6,"v":199.3},{"s":"O1","c":"a","d":300,"v":198},
{"s":"O1","c":"b","d":4.2,"v":268},{"s":"O1","c":"b","d":4.6,"v":240},{"s":"O1","c":"b","d":5.2,"v":205},{"s":"O1","c":"b","d":6.0,"v":185},{"s":"O1","c":"b","d":6.8,"v":170},{"s":"O1","c":"b","d":7.6,"v":190},{"s":"O1","c":"b","d":8.0,"v":221},{"s":"O1","c":"b","d":8.4,"v":214},{"s":"O1","c":"b","d":9.0,"v":205},
{"s":"O1","c":"b","d":10,"v":200.5},{"s":"O1","c":"b","d":11,"v":199.2},{"s":"O1","c":"b","d":12,"v":200.3},{"s":"O1","c":"b","d":13,"v":198.9},{"s":"O1","c":"b","d":14,"v":200.7},{"s":"O1","c":"b","d":15,"v":199.4},{"s":"O1","c":"b","d":16,"v":200.1},{"s":"O1","c":"b","d":17,"v":198.8},{"s":"O1","c":"b","d":18,"v":200.9},{"s":"O1","c":"b","d":19,"v":199.3},{"s":"O1","c":"b","d":20,"v":200.4},{"s":"O1","c":"b","d":21,"v":199},{"s":"O1","c":"b","d":22,"v":200.8},{"s":"O1","c":"b","d":23,"v":199.5},{"s":"O1","c":"b","d":24,"v":200.2},{"s":"O1","c":"b","d":25,"v":198.9},{"s":"O1","c":"b","d":26,"v":200.6},{"s":"O1","c":"b","d":27,"v":199.4},{"s":"O1","c":"b","d":28,"v":200.9},{"s":"O1","c":"b","d":29,"v":199.1},{"s":"O1","c":"b","d":30,"v":200},{"s":"O1","c":"b","d":31,"v":199.6},{"s":"O1","c":"b","d":32,"v":200.8},{"s":"O1","c":"b","d":33,"v":198.8},{"s":"O1","c":"b","d":34,"v":200.3},{"s":"O1","c":"b","d":35,"v":199.5},{"s":"O1","c":"b","d":36,"v":200.7},{"s":"O1","c":"b","d":37,"v":199},{"s":"O1","c":"b","d":38,"v":200.2},{"s":"O1","c":"b","d":39,"v":199.4},{"s":"O1","c":"b","d":40,"v":200.9},{"s":"O1","c":"b","d":41,"v":199.2},{"s":"O1","c":"b","d":42,"v":200.1},{"s":"O1","c":"b","d":43,"v":199.7},{"s":"O1","c":"b","d":44,"v":200.8},{"s":"O1","c":"b","d":45,"v":198.9},{"s":"O1","c":"b","d":46,"v":200.4},{"s":"O1","c":"b","d":47,"v":199.3},{"s":"O1","c":"b","d":48,"v":200.7},{"s":"O1","c":"b","d":49,"v":199.5},{"s":"O1","c":"b","d":50,"v":200.2},{"s":"O1","c":"b","d":51,"v":199.1},{"s":"O1","c":"b","d":52,"v":200.5},{"s":"O1","c":"b","d":54,"v":199.8},{"s":"O1","c":"b","d":56,"v":200.3},
{"s":"O1","c":"b","d":58.4,"v":201.2},{"s":"O1","c":"b","d":59.6,"v":203.9},{"s":"O1","c":"b","d":61,"v":206},{"s":"O1","c":"b","d":62.4,"v":208.2},{"s":"O1","c":"b","d":63.5,"v":210.4},{"s":"O1","c":"b","d":64.8,"v":212},{"s":"O1","c":"b","d":66.4,"v":212.5},{"s":"O1","c":"b","d":68,"v":212.2},{"s":"O1","c":"b","d":70,"v":212},{"s":"O1","c":"b","d":73,"v":211.9},{"s":"O1","c":"b","d":75.9,"v":211.4},{"s":"O1","c":"b","d":78,"v":210.4},{"s":"O1","c":"b","d":80.7,"v":209.8},{"s":"O1","c":"b","d":84,"v":208.2},{"s":"O1","c":"b","d":87,"v":207.1},{"s":"O1","c":"b","d":90,"v":206.3},{"s":"O1","c":"b","d":94.2,"v":205.5},{"s":"O1","c":"b","d":97,"v":204},{"s":"O1","c":"b","d":99.7,"v":202.8},{"s":"O1","c":"b","d":102,"v":202},{"s":"O1","c":"b","d":105.3,"v":200.7},{"s":"O1","c":"b","d":108,"v":199.7},{"s":"O1","c":"b","d":110.9,"v":197.4},{"s":"O1","c":"b","d":113,"v":196.5},{"s":"O1","c":"b","d":115.6,"v":195.8},{"s":"O1","c":"b","d":118,"v":194.5},{"s":"O1","c":"b","d":120,"v":193.7},{"s":"O1","c":"b","d":123,"v":194.3},{"s":"O1","c":"b","d":126.8,"v":194.2},{"s":"O1","c":"b","d":129.2,"v":193.7},{"s":"O1","c":"b","d":132.3,"v":197.4},{"s":"O1","c":"b","d":135,"v":197.2},{"s":"O1","c":"b","d":137.5,"v":197.8},{"s":"O1","c":"b","d":140.3,"v":198},{"s":"O1","c":"b","d":143.5,"v":195.8},{"s":"O1","c":"b","d":145.1,"v":190.5},{"s":"O1","c":"b","d":148.2,"v":190.5},{"s":"O1","c":"b","d":149,"v":193.1},{"s":"O1","c":"b","d":151,"v":190.9},{"s":"O1","c":"b","d":153,"v":187.8},{"s":"O1","c":"b","d":156.2,"v":185.6},{"s":"O1","c":"b","d":158.6,"v":186.3},{"s":"O1","c":"b","d":161,"v":189},{"s":"O1","c":"b","d":164.2,"v":192.6},{"s":"O1","c":"b","d":167,"v":193.9},{"s":"O1","c":"b","d":169,"v":193.6},{"s":"O1","c":"b","d":171.6,"v":193.9},{"s":"O1","c":"b","d":172.6,"v":183.2},{"s":"O1","c":"b","d":175,"v":183.6},{"s":"O1","c":"b","d":177.2,"v":183.2},{"s":"O1","c":"b","d":180,"v":183.5},{"s":"O1","c":"b","d":182,"v":182.8},{"s":"O1","c":"b","d":184,"v":183},{"s":"O1","c":"b","d":186,"v":182.3},{"s":"O1","c":"b","d":188,"v":182.1},{"s":"O1","c":"b","d":190,"v":182.7},{"s":"O1","c":"b","d":192,"v":182.5},{"s":"O1","c":"b","d":194,"v":183.4},{"s":"O1","c":"b","d":196,"v":183.5},{"s":"O1","c":"b","d":198,"v":184.3},{"s":"O1","c":"b","d":200,"v":184.5},{"s":"O1","c":"b","d":202,"v":185.2},{"s":"O1","c":"b","d":204,"v":185.5},{"s":"O1","c":"b","d":206,"v":186.3},{"s":"O1","c":"b","d":208,"v":186.5},{"s":"O1","c":"b","d":210,"v":187.2},{"s":"O1","c":"b","d":212,"v":187},{"s":"O1","c":"b","d":214,"v":187.6},{"s":"O1","c":"b","d":216,"v":187.8},{"s":"O1","c":"b","d":218,"v":187.3},{"s":"O1","c":"b","d":220,"v":187.5},{"s":"O1","c":"b","d":222,"v":188.3},{"s":"O1","c":"b","d":224,"v":188.5},{"s":"O1","c":"b","d":226,"v":188},{"s":"O1","c":"b","d":228,"v":188.3},{"s":"O1","c":"b","d":230,"v":189},{"s":"O1","c":"b","d":232,"v":189.3},{"s":"O1","c":"b","d":234,"v":188.8},{"s":"O1","c":"b","d":236,"v":189},{"s":"O1","c":"b","d":238,"v":189.8},{"s":"O1","c":"b","d":240,"v":189.7},{"s":"O1","c":"b","d":242,"v":189.1},{"s":"O1","c":"b","d":244,"v":188.9},{"s":"O1","c":"b","d":246,"v":189.6},{"s":"O1","c":"b","d":248,"v":189.7},{"s":"O1","c":"b","d":250,"v":189.2},{"s":"O1","c":"b","d":252,"v":189.5},{"s":"O1","c":"b","d":254,"v":190.2},{"s":"O1","c":"b","d":256,"v":190.1},{"s":"O1","c":"b","d":258,"v":190.6},{"s":"O1","c":"b","d":260,"v":190.5},{"s":"O1","c":"b","d":262.8,"v":190.9},{"s":"O1","c":"b","d":263.5,"v":195.5},{"s":"O1","c":"b","d":266,"v":196},{"s":"O1","c":"b","d":268,"v":196.1},{"s":"O1","c":"b","d":270,"v":195.8},{"s":"O1","c":"b","d":272,"v":196.4},{"s":"O1","c":"b","d":274,"v":196.6},{"s":"O1","c":"b","d":276,"v":196.9},{"s":"O1","c":"b","d":278,"v":196.5},{"s":"O1","c":"b","d":280,"v":196.6},{"s":"O1","c":"b","d":282,"v":197.2},{"s":"O1","c":"b","d":284,"v":197.4},{"s":"O1","c":"b","d":286,"v":197},{"s":"O1","c":"b","d":288,"v":197.3},{"s":"O1","c":"b","d":290,"v":197.9},{"s":"O1","c":"b","d":292,"v":198.4},{"s":"O1","c":"b","d":294,"v":198.8},{"s":"O1","c":"b","d":296,"v":199.2},{"s":"O1","c":"b","d":298,"v":199.6},{"s":"O1","c":"b","d":300,"v":198.3},
{"s":"O2","c":"a","d":2.0,"v":200},{"s":"O2","c":"a","d":3.5,"v":150},{"s":"O2","c":"a","d":4.4,"v":100},{"s":"O2","c":"a","d":4.9,"v":92},{"s":"O2","c":"a","d":5.4,"v":100},{"s":"O2","c":"a","d":5.7,"v":60},{"s":"O2","c":"a","d":6.2,"v":23},{"s":"O2","c":"a","d":6.6,"v":60},{"s":"O2","c":"a","d":7.0,"v":110},{"s":"O2","c":"a","d":7.5,"v":150},{"s":"O2","c":"a","d":8.2,"v":172},
{"s":"O2","c":"a","d":9,"v":173.5},{"s":"O2","c":"a","d":10,"v":171.6},{"s":"O2","c":"a","d":11,"v":172.9},{"s":"O2","c":"a","d":12,"v":171.3},{"s":"O2","c":"a","d":13,"v":173},{"s":"O2","c":"a","d":14,"v":172},{"s":"O2","c":"a","d":15,"v":173.3},{"s":"O2","c":"a","d":16,"v":171.5},{"s":"O2","c":"a","d":17,"v":172.6},{"s":"O2","c":"a","d":18,"v":171.9},{"s":"O2","c":"a","d":19,"v":173.2},{"s":"O2","c":"a","d":20,"v":171.4},{"s":"O2","c":"a","d":21,"v":172.8},{"s":"O2","c":"a","d":22,"v":172.1},{"s":"O2","c":"a","d":23,"v":173.4},{"s":"O2","c":"a","d":24,"v":171.6},{"s":"O2","c":"a","d":25,"v":172.5},{"s":"O2","c":"a","d":26,"v":171.9},{"s":"O2","c":"a","d":27,"v":173.1},{"s":"O2","c":"a","d":28,"v":171.5},{"s":"O2","c":"a","d":29,"v":172.9},{"s":"O2","c":"a","d":30,"v":172.3},{"s":"O2","c":"a","d":31,"v":173.4},{"s":"O2","c":"a","d":32,"v":171.7},{"s":"O2","c":"a","d":33,"v":172.6},{"s":"O2","c":"a","d":34,"v":171.8},{"s":"O2","c":"a","d":35,"v":173.2},{"s":"O2","c":"a","d":36,"v":171.4},{"s":"O2","c":"a","d":37,"v":172.7},{"s":"O2","c":"a","d":38,"v":172.2},{"s":"O2","c":"a","d":39,"v":173.3},{"s":"O2","c":"a","d":40,"v":171.6},{"s":"O2","c":"a","d":41,"v":172.8},{"s":"O2","c":"a","d":42,"v":171.9},{"s":"O2","c":"a","d":43,"v":173},{"s":"O2","c":"a","d":44,"v":171.5},{"s":"O2","c":"a","d":45,"v":172.6},{"s":"O2","c":"a","d":46,"v":172.1},{"s":"O2","c":"a","d":47,"v":173.2},{"s":"O2","c":"a","d":48,"v":171.7},{"s":"O2","c":"a","d":49,"v":172.7},{"s":"O2","c":"a","d":50,"v":171.9},{"s":"O2","c":"a","d":51,"v":173},{"s":"O2","c":"a","d":52,"v":172.2},{"s":"O2","c":"a","d":53.6,"v":172.4},
{"s":"O2","c":"a","d":54.4,"v":177.5},{"s":"O2","c":"a","d":55.6,"v":181},{"s":"O2","c":"a","d":56.8,"v":184},{"s":"O2","c":"a","d":58.8,"v":189},{"s":"O2","c":"a","d":60.8,"v":190.5},{"s":"O2","c":"a","d":63.2,"v":191.3},{"s":"O2","c":"a","d":66.4,"v":190.5},{"s":"O2","c":"a","d":68.7,"v":192.4},{"s":"O2","c":"a","d":71.1,"v":190.5},{"s":"O2","c":"a","d":74.3,"v":188.8},{"s":"O2","c":"a","d":77.5,"v":185.5},{"s":"O2","c":"a","d":79.9,"v":183.2},{"s":"O2","c":"a","d":82,"v":183.8},{"s":"O2","c":"a","d":84.6,"v":183.4},{"s":"O2","c":"a","d":88.6,"v":181.5},{"s":"O2","c":"a","d":91.8,"v":179.6},{"s":"O2","c":"a","d":94,"v":178.8},{"s":"O2","c":"a","d":96.6,"v":176.9},{"s":"O2","c":"a","d":99.7,"v":175.8},{"s":"O2","c":"a","d":103.7,"v":174.2},{"s":"O2","c":"a","d":105.3,"v":168.8},{"s":"O2","c":"a","d":107.7,"v":165.6},{"s":"O2","c":"a","d":111.7,"v":164},{"s":"O2","c":"a","d":115.6,"v":163},{"s":"O2","c":"a","d":119.6,"v":161.3},{"s":"O2","c":"a","d":122.8,"v":160.8},{"s":"O2","c":"a","d":126.8,"v":161.3},{"s":"O2","c":"a","d":130,"v":161.9},{"s":"O2","c":"a","d":131.5,"v":168.3},{"s":"O2","c":"a","d":133.9,"v":168.9},{"s":"O2","c":"a","d":137.9,"v":168.3},{"s":"O2","c":"a","d":141,"v":166.7},{"s":"O2","c":"a","d":144.3,"v":158.1},{"s":"O2","c":"a","d":146.6,"v":155.9},{"s":"O2","c":"a","d":149.8,"v":152.7},{"s":"O2","c":"a","d":152.2,"v":151.1},{"s":"O2","c":"a","d":155.4,"v":147.3},{"s":"O2","c":"a","d":158,"v":146.5},{"s":"O2","c":"a","d":160,"v":148},{"s":"O2","c":"a","d":162,"v":153},{"s":"O2","c":"a","d":163.5,"v":156},{"s":"O2","c":"a","d":165,"v":155},{"s":"O2","c":"a","d":166.6,"v":158},{"s":"O2","c":"a","d":168.5,"v":160.5},{"s":"O2","c":"a","d":170,"v":158},{"s":"O2","c":"a","d":171,"v":152},{"s":"O2","c":"a","d":172,"v":162},{"s":"O2","c":"a","d":173.5,"v":163},{"s":"O2","c":"a","d":174.5,"v":162.5},{"s":"O2","c":"a","d":175.2,"v":146},{"s":"O2","c":"a","d":177,"v":144},{"s":"O2","c":"a","d":179.8,"v":142.4},{"s":"O2","c":"a","d":182,"v":145},{"s":"O2","c":"a","d":185,"v":144.5},{"s":"O2","c":"a","d":188,"v":145.5},{"s":"O2","c":"a","d":190,"v":144},{"s":"O2","c":"a","d":193,"v":144.2},{"s":"O2","c":"a","d":196,"v":144.5},{"s":"O2","c":"a","d":199.7,"v":144.8},{"s":"O2","c":"a","d":202,"v":146},{"s":"O2","c":"a","d":204.6,"v":147.8},{"s":"O2","c":"a","d":207,"v":147},{"s":"O2","c":"a","d":209.6,"v":147.8},{"s":"O2","c":"a","d":213,"v":149},{"s":"O2","c":"a","d":217.9,"v":150.2},{"s":"O2","c":"a","d":222,"v":151},{"s":"O2","c":"a","d":226.1,"v":152},{"s":"O2","c":"a","d":230,"v":151.5},{"s":"O2","c":"a","d":234.4,"v":152.6},{"s":"O2","c":"a","d":238,"v":152},{"s":"O2","c":"a","d":241,"v":152},{"s":"O2","c":"a","d":244,"v":153},{"s":"O2","c":"a","d":247.6,"v":152.6},{"s":"O2","c":"a","d":250,"v":153.5},{"s":"O2","c":"a","d":252.6,"v":154.5},{"s":"O2","c":"a","d":257.5,"v":154.5},{"s":"O2","c":"a","d":259.2,"v":161.1},{"s":"O2","c":"a","d":264.1,"v":162.9},{"s":"O2","c":"a","d":268,"v":163.5},{"s":"O2","c":"a","d":272.4,"v":164.7},{"s":"O2","c":"a","d":276,"v":164},{"s":"O2","c":"a","d":279,"v":165.3},{"s":"O2","c":"a","d":282,"v":166},{"s":"O2","c":"a","d":285.6,"v":165.9},{"s":"O2","c":"a","d":288,"v":165},{"s":"O2","c":"a","d":291,"v":166.5},{"s":"O2","c":"a","d":295.6,"v":167.1},{"s":"O2","c":"a","d":298,"v":168},{"s":"O2","c":"a","d":300,"v":168.5},
{"s":"O2","c":"b","d":3.0,"v":262},{"s":"O2","c":"b","d":4.5,"v":160},{"s":"O2","c":"b","d":6.5,"v":130},{"s":"O2","c":"b","d":7.2,"v":90},{"s":"O2","c":"b","d":7.8,"v":48},{"s":"O2","c":"b","d":8.2,"v":90},{"s":"O2","c":"b","d":8.5,"v":130},{"s":"O2","c":"b","d":8.8,"v":165},
{"s":"O2","c":"b","d":9.5,"v":172.5},{"s":"O2","c":"b","d":10.5,"v":173.2},{"s":"O2","c":"b","d":11.5,"v":171.6},{"s":"O2","c":"b","d":12.5,"v":172.9},{"s":"O2","c":"b","d":13.5,"v":171.8},{"s":"O2","c":"b","d":14.5,"v":173.3},{"s":"O2","c":"b","d":15.5,"v":171.5},{"s":"O2","c":"b","d":16.5,"v":172.6},{"s":"O2","c":"b","d":17.5,"v":172.1},{"s":"O2","c":"b","d":18.5,"v":173.1},{"s":"O2","c":"b","d":19.5,"v":171.4},{"s":"O2","c":"b","d":20.5,"v":172.8},{"s":"O2","c":"b","d":21.5,"v":171.9},{"s":"O2","c":"b","d":22.5,"v":173.3},{"s":"O2","c":"b","d":23.5,"v":171.6},{"s":"O2","c":"b","d":24.5,"v":172.4},{"s":"O2","c":"b","d":25.5,"v":172},{"s":"O2","c":"b","d":26.5,"v":173.2},{"s":"O2","c":"b","d":27.5,"v":171.5},{"s":"O2","c":"b","d":28.5,"v":172.9},{"s":"O2","c":"b","d":29.5,"v":171.8},{"s":"O2","c":"b","d":30.5,"v":173},{"s":"O2","c":"b","d":31.5,"v":171.6},{"s":"O2","c":"b","d":32.5,"v":172.6},{"s":"O2","c":"b","d":33.5,"v":172.1},{"s":"O2","c":"b","d":34.5,"v":173.4},{"s":"O2","c":"b","d":35.5,"v":171.7},{"s":"O2","c":"b","d":36.5,"v":172.7},{"s":"O2","c":"b","d":37.5,"v":171.9},{"s":"O2","c":"b","d":38.5,"v":173.1},{"s":"O2","c":"b","d":39.5,"v":171.5},{"s":"O2","c":"b","d":40.5,"v":172.8},{"s":"O2","c":"b","d":41.5,"v":172},{"s":"O2","c":"b","d":42.5,"v":173.2},{"s":"O2","c":"b","d":43.5,"v":171.6},{"s":"O2","c":"b","d":44.5,"v":172.5},{"s":"O2","c":"b","d":45.5,"v":171.9},{"s":"O2","c":"b","d":46.5,"v":173},{"s":"O2","c":"b","d":47.5,"v":171.7},{"s":"O2","c":"b","d":48.5,"v":172.8},{"s":"O2","c":"b","d":49.5,"v":172},{"s":"O2","c":"b","d":50.5,"v":173.1},{"s":"O2","c":"b","d":51.5,"v":171.8},{"s":"O2","c":"b","d":53,"v":172.5},{"s":"O2","c":"b","d":56,"v":172.3},
{"s":"O2","c":"b","d":58.4,"v":174},{"s":"O2","c":"b","d":59.6,"v":179},{"s":"O2","c":"b","d":61.6,"v":183},{"s":"O2","c":"b","d":64,"v":189.6},{"s":"O2","c":"b","d":66.4,"v":190.6},{"s":"O2","c":"b","d":67.9,"v":192.4},{"s":"O2","c":"b","d":70,"v":190.9},{"s":"O2","c":"b","d":72.7,"v":190},{"s":"O2","c":"b","d":75.9,"v":188.8},{"s":"O2","c":"b","d":78,"v":188.9},{"s":"O2","c":"b","d":80.7,"v":188.2},{"s":"O2","c":"b","d":83,"v":184.4},{"s":"O2","c":"b","d":87,"v":182.8},{"s":"O2","c":"b","d":90.2,"v":180.7},{"s":"O2","c":"b","d":93.4,"v":182.3},{"s":"O2","c":"b","d":98.2,"v":178},{"s":"O2","c":"b","d":102.9,"v":175.3},{"s":"O2","c":"b","d":106.1,"v":174.2},{"s":"O2","c":"b","d":108.5,"v":174.2},{"s":"O2","c":"b","d":110.9,"v":169.9},{"s":"O2","c":"b","d":114,"v":168.9},{"s":"O2","c":"b","d":116.4,"v":168.3},{"s":"O2","c":"b","d":119.6,"v":162.4},{"s":"O2","c":"b","d":122,"v":161.9},{"s":"O2","c":"b","d":128.4,"v":161.9},{"s":"O2","c":"b","d":132.3,"v":168.9},{"s":"O2","c":"b","d":137.9,"v":168.9},{"s":"O2","c":"b","d":141.9,"v":168.3},{"s":"O2","c":"b","d":145.9,"v":167.8},{"s":"O2","c":"b","d":148.2,"v":160.2},{"s":"O2","c":"b","d":152.2,"v":159.2},{"s":"O2","c":"b","d":155.4,"v":153.8},{"s":"O2","c":"b","d":157.8,"v":150},{"s":"O2","c":"b","d":160.2,"v":149},{"s":"O2","c":"b","d":162.5,"v":150},{"s":"O2","c":"b","d":164.5,"v":157},{"s":"O2","c":"b","d":167,"v":159},{"s":"O2","c":"b","d":169,"v":160.5},{"s":"O2","c":"b","d":170,"v":158.5},{"s":"O2","c":"b","d":171.5,"v":161},{"s":"O2","c":"b","d":173,"v":163.5},{"s":"O2","c":"b","d":174.5,"v":163},{"s":"O2","c":"b","d":175.5,"v":147},{"s":"O2","c":"b","d":177.5,"v":145},{"s":"O2","c":"b","d":179,"v":144.5},{"s":"O2","c":"b","d":181,"v":143.8},{"s":"O2","c":"b","d":184,"v":145.2},{"s":"O2","c":"b","d":187,"v":144},{"s":"O2","c":"b","d":190,"v":145.3},{"s":"O2","c":"b","d":193,"v":143.8},{"s":"O2","c":"b","d":196,"v":145.2},{"s":"O2","c":"b","d":199,"v":145},{"s":"O2","c":"b","d":202,"v":147},{"s":"O2","c":"b","d":205,"v":146.8},{"s":"O2","c":"b","d":208,"v":148.3},{"s":"O2","c":"b","d":211,"v":148},{"s":"O2","c":"b","d":215,"v":149.6},{"s":"O2","c":"b","d":219,"v":150.8},{"s":"O2","c":"b","d":223,"v":151.2},{"s":"O2","c":"b","d":227,"v":151.6},{"s":"O2","c":"b","d":231,"v":152.4},{"s":"O2","c":"b","d":235,"v":151.8},{"s":"O2","c":"b","d":239,"v":152.8},{"s":"O2","c":"b","d":243,"v":152.2},{"s":"O2","c":"b","d":247,"v":153.2},{"s":"O2","c":"b","d":251,"v":153.8},{"s":"O2","c":"b","d":255,"v":154.2},{"s":"O2","c":"b","d":258,"v":154.8},{"s":"O2","c":"b","d":262,"v":154.5},{"s":"O2","c":"b","d":265,"v":155},{"s":"O2","c":"b","d":265.8,"v":162.9},{"s":"O2","c":"b","d":269,"v":163.2},{"s":"O2","c":"b","d":273,"v":165},{"s":"O2","c":"b","d":277,"v":164.6},{"s":"O2","c":"b","d":281,"v":165.8},{"s":"O2","c":"b","d":285,"v":165.2},{"s":"O2","c":"b","d":289,"v":166.2},{"s":"O2","c":"b","d":293,"v":166.4},{"s":"O2","c":"b","d":297,"v":167.8},{"s":"O2","c":"b","d":300,"v":168.2}
]},
"layer":[
{"transform":[{"filter":"datum.s === 'C'"}],
 "mark":{"type":"line","color":"#f6a19d","strokeWidth":1.8,"clip":true},
 "encoding":{
  "x":{"field":"d","type":"quantitative","scale":{"domain":[0,300],"nice":false,"zero":false},
   "axis":{"values":[0,60,120,180,240,300],"labelAngle":270,"labelAlign":"right","labelBaseline":"middle","labelFontSize":14,"labelColor":"#333","labelPadding":3,"tickSize":6,"tickColor":"#333","domain":false,"grid":true,"gridDash":[9,7],"gridColor":"#9a9a9a","gridOpacity":{"condition":{"test":"datum.value > 0 && datum.value < 300","value":1},"value":0},"title":"Depth [salt water, m]","titleAngle":180,"titleBaseline":"bottom","titleFontSize":15.5,"titleColor":"#333","titlePadding":4}},
  "y":{"field":"v","type":"quantitative","scale":{"domain":[-0.02,0.02],"nice":false,"zero":false},
   "axis":{"orient":"right","values":[-0.016,-0.008,0,0.008,0.016],"labelExpr":"(datum.value < 0 ? '-' : '') + format(abs(datum.value), '.3f')","labelAngle":270,"labelAlign":"center","labelBaseline":"top","labelFontSize":14,"labelColor":"#e4847e","labelPadding":5,"tickSize":8,"tickColor":"#555","domain":false,"grid":true,"gridDash":[9,7],"gridColor":"#9a9a9a","title":"Conductivity Difference, 2 - 1 [S/m]","titleAngle":270,"titleBaseline":"top","titleFontSize":15,"titleColor":"#e4847e","titlePadding":2}},
  "detail":{"field":"c"},
  "order":{"value":null}
 }},
{"transform":[{"filter":"datum.s === 'T'"}],
 "mark":{"type":"line","color":"#7b9be3","strokeWidth":1.8,"clip":true},
 "encoding":{
  "x":{"field":"d","type":"quantitative",
   "axis":{"values":[12,24,36,48,72,84,96,108,132,144,156,168,192,204,216,228,252,264,276,288],"labels":false,"tickSize":-8,"tickColor":"#333","domain":false,"grid":false,"title":null}},
  "y":{"field":"v","type":"quantitative","scale":{"domain":[-0.6,0.2],"nice":false,"zero":false},
   "axis":{"orient":"left","values":[-0.4,-0.2,0,0.2],"labelExpr":"(datum.value < 0 ? '-' : '') + format(abs(datum.value), '.2f')","labelAngle":270,"labelAlign":"center","labelBaseline":"bottom","labelFontSize":14,"labelColor":"#7392d0","labelPadding":1,"tickSize":4,"tickColor":"#555","domain":false,"grid":false,"title":"Temperature Difference, 2 - 1 [ITS-90, deg C]","titleAngle":270,"titleBaseline":"bottom","titleFontSize":15,"titleColor":"#7392d0","titlePadding":5}},
  "detail":{"field":"c"},
  "order":{"value":null}
 }},
{"transform":[{"filter":"datum.s === 'O1' || datum.s === 'O2'"}],
 "mark":{"type":"line","strokeWidth":2.8,"clip":true},
 "encoding":{
  "x":{"field":"d","type":"quantitative","axis":null},
  "y":{"field":"v","type":"quantitative","scale":{"domain":[0,250],"nice":false,"zero":false},
   "axis":{"orient":"right","offset":53,"values":[0,50,100,150,200,250],"labelAngle":270,"labelAlign":"center","labelBaseline":"top","labelFontSize":14,"labelColor":"#4c9e56","labelPadding":17,"tickSize":-12,"tickColor":"#777","domain":true,"domainColor":"#999","domainWidth":1,"grid":false,"title":"Oxygen, SBE 43 [umol/Kg]","titleAngle":270,"titleBaseline":"top","titleFontSize":15,"titleColor":"#4c9e56","titlePadding":8}},
  "color":{"field":"s","type":"nominal","scale":{"domain":["O1","O2"],"range":["#2b8a3e","#0c5a29"]},"legend":null},
  "detail":{"field":"c"},
  "order":{"value":null}
 }}
],
"resolve":{"scale":{"y":"independent"},"axis":{"x":"independent"}}
}
